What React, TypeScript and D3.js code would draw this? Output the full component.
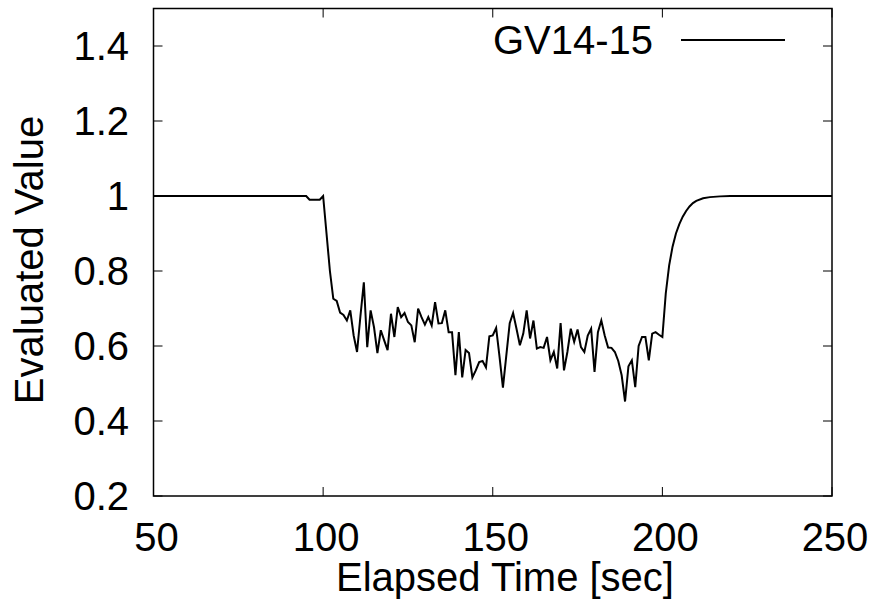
import React from 'react';
import * as d3 from 'd3';

const TIME = [
  50, 95, 96, 99, 100, 101, 102, 103, 104, 105, 106, 107, 108, 109, 110,
  111, 112, 113, 114, 115, 116, 117, 118, 119, 120, 121, 122, 123, 124, 125,
  126, 127, 128, 129, 130, 131, 132, 133, 134, 135, 136, 137, 138, 139, 140,
  141, 142, 143, 144, 145, 146, 147, 148, 149, 150, 151, 152, 153, 154, 155,
  156, 157, 158, 159, 160, 161, 162, 163, 164, 165, 166, 167, 168, 169, 170,
  171, 172, 173, 174, 175, 176, 177, 178, 179, 180, 181, 182, 183, 184, 185,
  186, 187, 188, 189, 190, 191, 192, 193, 194, 195, 196, 197, 198, 199, 200,
  201, 202, 203, 204, 205, 206, 207, 208, 209, 210, 212, 214, 217, 220, 250,
];

const VALUE = [
  1.0, 1.0, 0.99, 0.99, 1.0, 0.9, 0.8, 0.726, 0.72, 0.689, 0.683, 0.668, 0.695, 0.628, 0.584,
  0.68, 0.77, 0.597, 0.695, 0.65, 0.581, 0.642, 0.615, 0.589, 0.686, 0.624, 0.704, 0.677, 0.688, 0.664,
  0.655, 0.61, 0.7, 0.677, 0.657, 0.677, 0.655, 0.717, 0.66, 0.661, 0.695, 0.637, 0.637, 0.522, 0.637,
  0.516, 0.589, 0.581, 0.516, 0.535, 0.557, 0.56, 0.543, 0.626, 0.628, 0.648, 0.571, 0.489, 0.575, 0.661,
  0.688, 0.646, 0.602, 0.633, 0.695, 0.62, 0.668, 0.593, 0.597, 0.595, 0.624, 0.562, 0.584, 0.54, 0.661,
  0.535, 0.584, 0.646, 0.611, 0.644, 0.597, 0.584, 0.628, 0.646, 0.531, 0.637, 0.668, 0.628, 0.596, 0.595,
  0.584, 0.56, 0.522, 0.452, 0.546, 0.562, 0.49, 0.6, 0.624, 0.624, 0.562, 0.633, 0.637, 0.63, 0.624,
  0.74, 0.815, 0.865, 0.9, 0.925, 0.945, 0.96, 0.972, 0.981, 0.987, 0.994, 0.997, 0.999, 1.0, 1.0,
];

const X_TICKS = [50, 100, 150, 200, 250];
const Y_TICKS = [0.2, 0.4, 0.6, 0.8, 1, 1.2, 1.4];
const SERIES_NAME = 'GV14-15';

const FONT = '"Liberation Sans", Arial, Helvetica, sans-serif';

export default function App() {
  const width = 873;
  const height = 599;
  const left = 153.5, right = 832, top = 8.5, bottom = 496;

  const x = d3.scaleLinear().domain([50, 250]).range([left, right]);
  const y = d3.scaleLinear().domain([0.2, 1.5]).range([bottom, top]);

  const pts: [number, number][] = TIME.map((t, i) => [t, VALUE[i]]);
  const line = d3.line<[number, number]>()
    .x(d => x(d[0]))
    .y(d => y(d[1]));

  const tickLen = 9;

  return (
    <div style={{ position: 'fixed', left: 0, top: 0, width, height, background: '#fff' }}>
      <svg width={width} height={height} style={{ display: 'block' }} fontFamily={FONT}>
        <rect x={0} y={0} width={width} height={height} fill="#fff" />

        {/* ticks, mirrored on all sides */}
        <g stroke="#000" strokeWidth={1}>
          {X_TICKS.map(t => (
            <g key={'x' + t}>
              <line x1={x(t)} x2={x(t)} y1={bottom} y2={bottom - tickLen} />
              <line x1={x(t)} x2={x(t)} y1={top} y2={top + tickLen} />
            </g>
          ))}
          {Y_TICKS.map(t => (
            <g key={'y' + t}>
              <line x1={left} x2={left + tickLen} y1={y(t)} y2={y(t)} />
              <line x1={right} x2={right - tickLen} y1={y(t)} y2={y(t)} />
            </g>
          ))}
        </g>

        <path d={line(pts) || ''} fill="none" stroke="#000" strokeWidth={2} strokeLinejoin="miter" />

        <rect x={left} y={top} width={right - left} height={bottom - top}
          fill="none" stroke="#000" strokeWidth={1.5} />

        {/* tick labels */}
        <g fontSize={40} fill="#000">
          {X_TICKS.map(t => (
            <text key={'xl' + t} x={x(t) + 3} y={551} textAnchor="middle">{t}</text>
          ))}
          {Y_TICKS.map(t => (
            <text key={'yl' + t} x={129} y={y(t) + 14} textAnchor="end">{t}</text>
          ))}
        </g>

        {/* axis titles */}
        <text x={505} y={591} fontSize={40} textAnchor="middle">Elapsed Time [sec]</text>
        <text transform={`translate(43,${260}) rotate(-90)`} fontSize={40} textAnchor="middle">Evaluated Value</text>

        {/* legend */}
        <text x={653} y={54} fontSize={40} textAnchor="end">{SERIES_NAME}</text>
        <line x1={681} x2={785} y1={40} y2={40} stroke="#000" strokeWidth={2} />
      </svg>
    </div>
  );
}
